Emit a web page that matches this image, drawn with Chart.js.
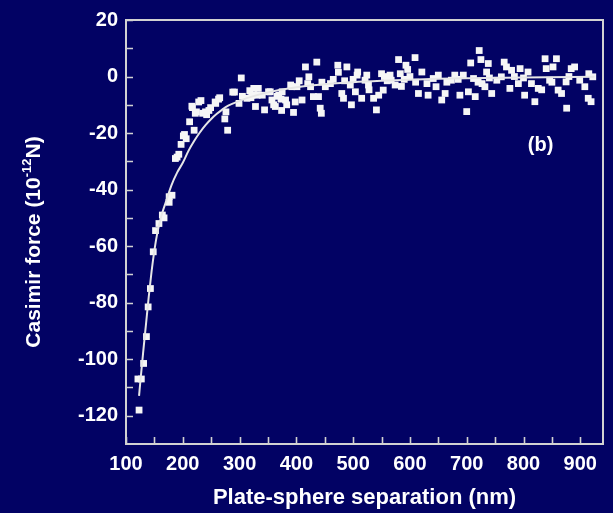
<!DOCTYPE html>
<html>
<head>
<meta charset="utf-8">
<script src="https://cdn.jsdelivr.net/npm/chart.js@4"></script>
<style>
html,body{margin:0;padding:0;background:#020264;}
#wrap{width:613px;height:513px;}
</style>
</head>
<body>
<div id="wrap"><canvas id="c" width="613" height="513"></canvas></div>
<script>
// ---- data ----
const sepNm = [
121,127,123,131,136,139,143,148,152,158,164,167,176,176,181,187,190,193,197,201,203,206,
212,216,217,220,222,224,228,232,235,240,242,246,249,257,258,263,265,274,276,279,288,291,299,303,305,313,318,
320,322,325,328,331,333,340,344,351,354,357,360,363,366,369,373,374,375,381,383,390,392,395,398,401,405,410,416,420,422,425,430,436,439,442,444,445,451,460,465,473,474,480,483,485,489,495,497,500,504,507,508,515,521,524,
527,528,536,541,545,550,553,555,560,565,567,574,580,583,585,590,593,596,600,609,610,615,621,630,632,641,646,650,656,662,665,673,679,685,688,694,700,703,707,712,715,720,722,725,
727,732,735,738,740,744,753,761,766,770,776,779,784,791,794,800,802,808,814,820,826,832,838,840,846,850,852,858,861,867,875,876,880,884,890,899,908,914,915,919,922
];
const forcePN = [
-107,-107,-118,-101.5,-92,-81.5,-75,-62,-54.5,-52,-49,-50,-44.5,-42.5,-42,-29,-28.5,-27.5,-24,-21,-20.5,-22,
-16,-10.5,-11,-19,-13,-12.5,-9,-8.5,-13,-12.5,-13.5,-12,-11,-9,-9.5,-8,-7.5,-15,-12.5,-19,-5.5,-5.5,-9.5,-0.5,-7,-7.7,-5,
-7.5,-6.6,-4.2,-10.6,-6.6,-4.2,-6.6,-11.8,-5.4,-5.4,-8.3,-10,-10.6,-7,-6.6,-8,-12,-5.4,-8.3,-10,-3,-3.6,-12.7,-9,-3.6,-1.5,-8.3,3.4,-2.5,-0.1,-3.6,-7.1,5.1,-7.1,-11.2,-13,-2,-3.6,-2.5,-1,4,1.5,-6,-7.7,-1.5,3.4,-3,-10,-1,-5.4,0.5,1.6,-7.7,-1.3,0.5,
-3,-4.7,-7.7,-11.8,-6.6,1,-4.8,0,-1.5,0.5,-1.3,-3,6,1,-3.5,-1,4,2.5,0,6.7,-2,-6,1.6,-2.5,-6.6,-0.7,-3.6,0.5,-8.3,-6,-2,-1.3,0.5,-1,-6.6,0.5,-12.4,-5.4,4.8,-0.7,-7.1,-2,9.2,6,
-2.5,-3.6,1.6,4.6,-0.5,-6,-1.3,-0.1,5.1,3.4,-4.2,2.2,0,-2.5,2.8,-0.5,-6.6,1.6,-2.5,-8.9,-4.2,-4.7,6.3,2.8,-1.3,-2,3.4,6.3,-4.8,-6,-1.9,-11.2,0,2.8,3.4,-1.3,-3.6,-7.7,1,-8.9,-0.1
];
const fitSep   = [123,125,130,135,140,145,150,155,160,165,170,180,190,200,210,220,230,240,250,260,270,280,300,320,350,400,450,500,550,600,650,700,800,925];
const fitForce = [-113,-108.5,-98,-88,-78,-69,-61.5,-55.5,-51,-47.5,-44.5,-38.5,-34,-30.5,-26.3,-22.8,-19.8,-17.2,-15,-13.2,-11.6,-10.3,-8.6,-7.2,-5.6,-3.8,-2.7,-2,-1.5,-1.1,-0.8,-0.6,-0.3,-0.1];

const xMajorTicks = [100,200,300,400,500,600,700,800,900];
const xMinorTicks = [150,250,350,450,550,650,750,850];
const yMajorTicks = [-120,-100,-80,-60,-40,-20,0,20];
const yMinorTicks = [-110,-90,-70,-50,-30,-10,10];
const xTitle = 'Plate-sphere separation (nm)';
const yTitleParts = ['Casimir force (10', '-12', 'N)'];
const panelLabel = '(b)';
const panelLabelAt = [830, -24.5];

// ---- styling ----
const BG = '#020264';
const FG = '#ffffff';
const AXIS = '#d2d2d2';
const FONT = '"Liberation Sans", Arial, sans-serif';

const scatterPts = sepNm.map((x, i) => ({x, y: forcePN[i]}));
const fitPts = fitSep.map((x, i) => ({x, y: fitForce[i]}));

const deco = {
  id: 'deco',
  beforeDraw(chart) {
    const ctx = chart.ctx;
    ctx.save();
    ctx.fillStyle = BG;
    ctx.fillRect(0, 0, chart.width, chart.height);
    ctx.restore();
  },
  afterDraw(chart) {
    const ctx = chart.ctx, a = chart.chartArea;
    const xs = chart.scales.x, ys = chart.scales.y;
    ctx.save();
    ctx.strokeStyle = AXIS;
    ctx.lineWidth = 2;
    ctx.strokeRect(a.left, a.top, a.right - a.left, a.bottom - a.top);
    ctx.lineWidth = 1.6;
    ctx.beginPath();
    const tl = 7;
    xMajorTicks.concat(xMinorTicks).forEach(v => {
      const p = Math.round(xs.getPixelForValue(v)) + 0.5;
      ctx.moveTo(p, a.bottom); ctx.lineTo(p, a.bottom - tl);
    });
    yMajorTicks.concat(yMinorTicks).forEach(v => {
      const p = Math.round(ys.getPixelForValue(v)) + 0.5;
      ctx.moveTo(a.left, p); ctx.lineTo(a.left + tl, p);
    });
    ctx.stroke();

    // y title with superscript
    const big = 'bold 21px ' + FONT, small = 'bold 13px ' + FONT;
    ctx.font = big;
    const w0 = ctx.measureText(yTitleParts[0]).width;
    const w2 = ctx.measureText(yTitleParts[2]).width;
    ctx.font = small;
    const w1 = ctx.measureText(yTitleParts[1]).width;
    const total = w0 + w1 + w2;
    ctx.translate(34, 242);
    ctx.rotate(-Math.PI / 2);
    ctx.fillStyle = FG;
    ctx.textBaseline = 'middle';
    ctx.textAlign = 'left';
    let x0 = -total / 2;
    ctx.font = big; ctx.fillText(yTitleParts[0], x0, 0);
    ctx.font = small; ctx.fillText(yTitleParts[1], x0 + w0, -7);
    ctx.font = big; ctx.fillText(yTitleParts[2], x0 + w0 + w1, 0);
    ctx.restore();

    // panel label
    ctx.save();
    ctx.font = 'bold 20px ' + FONT;
    ctx.fillStyle = FG;
    ctx.textAlign = 'center';
    ctx.textBaseline = 'middle';
    ctx.fillText(panelLabel, xs.getPixelForValue(panelLabelAt[0]), ys.getPixelForValue(panelLabelAt[1]));
    ctx.restore();
  }
};

new Chart(document.getElementById('c'), {
  type: 'scatter',
  data: {
    datasets: [
      {
        label: 'fit',
        data: fitPts,
        showLine: true,
        borderColor: '#e6e6e6',
        borderWidth: 2,
        pointRadius: 0,
        fill: false,
        cubicInterpolationMode: 'monotone',
        order: 0
      },
      {
        label: 'data',
        data: scatterPts,
        pointStyle: 'rect',
        pointRadius: 4.8,
        pointBackgroundColor: '#f6f6f6',
        pointBorderColor: '#f6f6f6',
        pointBorderWidth: 0,
        order: 1
      }
    ]
  },
  options: {
    responsive: false,
    animation: false,
    devicePixelRatio: 1,
    layout: { padding: { top: 17, right: 10, left: 0, bottom: 0 } },
    plugins: { legend: { display: false }, tooltip: { enabled: false } },
    scales: {
      x: {
        type: 'linear', min: 100, max: 940,
        afterBuildTicks: s => { s.ticks = xMajorTicks.map(v => ({value: v})); },
        afterFit: s => { s.height = 69; },
        grid: { display: false, drawTicks: false },
        border: { display: false },
        ticks: { color: FG, font: { family: FONT, size: 20, weight: 'bold' }, padding: 8, maxRotation: 0, autoSkip: false },
        title: { display: true, text: xTitle, color: FG, font: { family: FONT, size: 22, weight: 'bold' }, padding: { top: 0, bottom: 2 } }
      },
      y: {
        type: 'linear', min: -130, max: 20,
        afterBuildTicks: s => { s.ticks = yMajorTicks.map(v => ({value: v})); },
        afterFit: s => { s.width = 126; },
        grid: { display: false, drawTicks: false },
        border: { display: false },
        ticks: { color: FG, font: { family: FONT, size: 20, weight: 'bold' }, padding: 8, autoSkip: false }
      }
    }
  },
  plugins: [deco]
});
</script>
</body>
</html>
